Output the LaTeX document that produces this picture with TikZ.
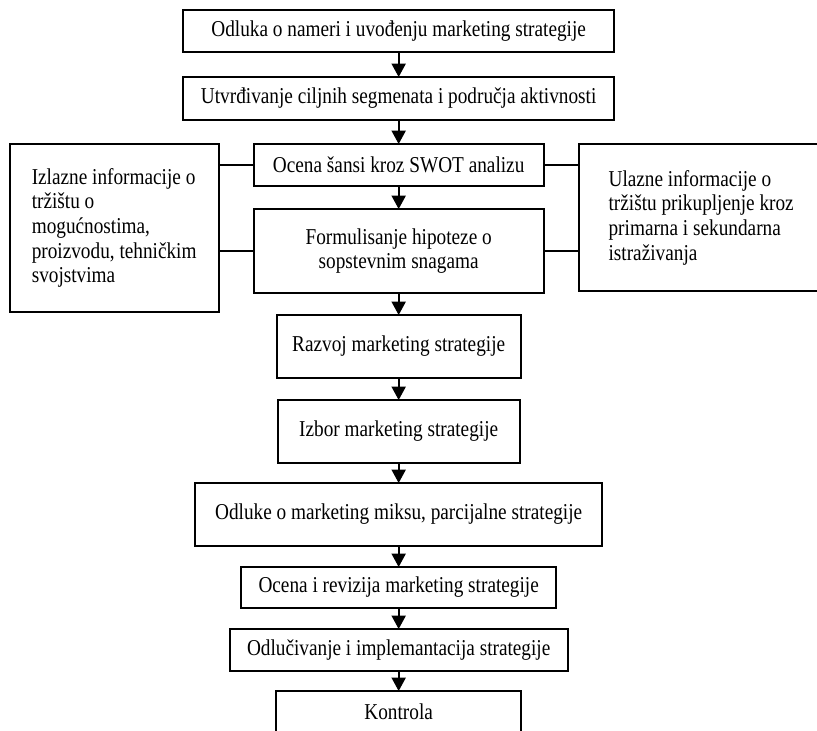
\documentclass[tikz,border=0pt]{standalone}
\usepackage{fontspec}
\setmainfont{Liberation Serif}[FakeStretch=0.85]
\usetikzlibrary{positioning,arrows.meta}

\begin{document}
\begin{tikzpicture}[node distance=16.5pt,
    block/.style={rectangle, draw, line width=1.4pt, outer sep=0pt, align=center, inner sep=2pt, font=\fontsize{17}{18.5}\selectfont},
    infobox/.style={rectangle, draw, line width=1.4pt, outer sep=0pt, align=left, inner sep=2pt, font=\fontsize{17}{18.5}\selectfont},
    arrow/.style={-{Triangle[length=10pt,width=10.5pt]}, line width=1.4pt},
    link/.style={line width=1.4pt}]

    \useasboundingbox (0,0) rectangle (612.75pt,-548.25pt);
    \clip (0,0) rectangle (612.75pt,-548.25pt);

    % main chain
    \node[block, minimum width=323pt, minimum height=31.5pt] (odluka) at (299pt,-23.25pt) {Odluka o nameri i uvođenju marketing strategije};
    \node[block, minimum width=323pt, minimum height=32.25pt, below=18.75pt of odluka] (utvrdjivanje) {Utvrđivanje ciljnih segmenata i područja aktivnosti};
    \node[block, minimum width=217.5pt, minimum height=31.5pt, below=18pt of utvrdjivanje] (swot) {Ocena šansi kroz SWOT analizu};
    \node[block, minimum width=217.5pt, minimum height=63pt, below=17.25pt of swot] (hipoteze) {Formulisanje hipoteze o\\sopstevnim snagama};
    \node[block, minimum width=183pt, minimum height=47.25pt, below=of hipoteze] (razvoj) {Razvoj marketing strategije};
    \node[block, minimum width=181.5pt, minimum height=47.25pt, below=of razvoj] (izbor) {Izbor marketing strategije};
    \node[block, minimum width=305.25pt, minimum height=47.25pt, below=15pt of izbor] (miks) {Odluke o marketing miksu, parcijalne strategije};
    \node[block, minimum width=236.25pt, minimum height=30.75pt, below=15.75pt of miks] (revizija) {Ocena i revizija marketing strategije};
    \node[block, minimum width=253.5pt, minimum height=31.5pt, below=15.75pt of revizija] (implementacija) {Odlučivanje i implemantacija strategije};
    \node[block, minimum width=183.75pt, minimum height=31.5pt, below=15pt of implementacija] (kontrola) {Kontrola};

    % side boxes
    \node[infobox, minimum width=156.75pt, minimum height=126pt, left=26.25pt of swot.north west, anchor=north east] (izlazne) {Izlazne informacije o\\tržištu o\\mogućnostima,\\proizvodu, tehničkim\\svojstvima};
    \node[infobox, minimum width=183.75pt, minimum height=110.25pt, right=26.25pt of swot.north east, anchor=north west] (ulazne) {Ulazne informacije o\\tržištu prikupljenje kroz\\primarna i sekundarna\\istraživanja};

    \draw[arrow] (odluka) -- (utvrdjivanje);
    \draw[arrow] (utvrdjivanje) -- (swot);
    \draw[arrow] (swot) -- (hipoteze);
    \draw[arrow] (hipoteze) -- (razvoj);
    \draw[arrow] (razvoj) -- (izbor);
    \draw[arrow] (izbor) -- (miks);
    \draw[arrow] (miks) -- (revizija);
    \draw[arrow] (revizija) -- (implementacija);
    \draw[arrow] (implementacija) -- (kontrola);

    \draw[link] (swot.west) -- (swot.west -| izlazne.east);
    \draw[link] (hipoteze.west) -- (hipoteze.west -| izlazne.east);
    \draw[link] (swot.east) -- (swot.east -| ulazne.west);
    \draw[link] (hipoteze.east) -- (hipoteze.east -| ulazne.west);
\end{tikzpicture}
\end{document}
